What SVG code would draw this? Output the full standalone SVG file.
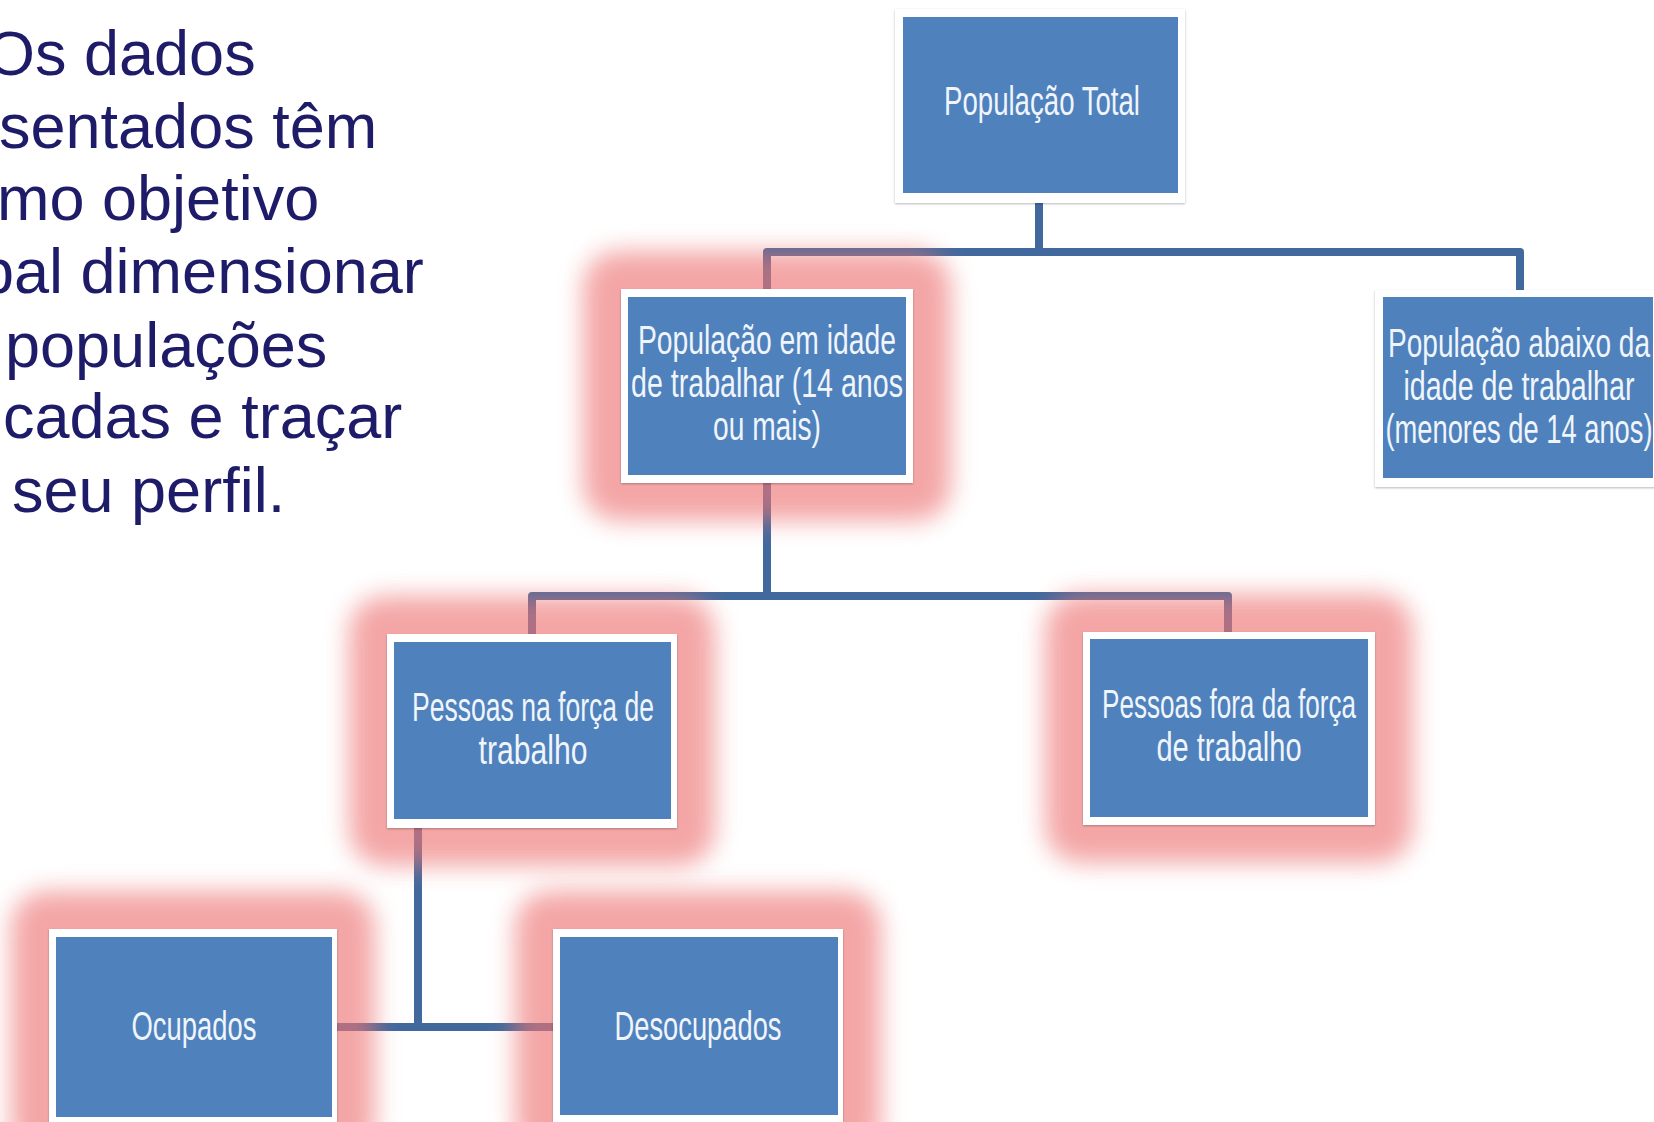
<svg xmlns="http://www.w3.org/2000/svg" width="1654" height="1122" viewBox="0 0 1654 1122">
  <defs>
    <filter id="glowBlur" x="-40%" y="-40%" width="180%" height="180%">
      <feGaussianBlur stdDeviation="12"/>
    </filter>
    <filter id="boxShadow" x="-5%" y="-5%" width="110%" height="110%">
      <feDropShadow dx="0" dy="1" stdDeviation="1.2" flood-color="#000000" flood-opacity="0.28"/>
    </filter>
  </defs>
  <style>
    .body { font-family: "Liberation Sans", Arial, sans-serif; font-size: 63px; fill: #1E1B68; }
    .lbl { font-family: "Liberation Sans", Arial, sans-serif; font-size: 40px; fill: #F0F5FB; text-anchor: middle; }
    .frame { fill: #FFFFFF; filter: url(#boxShadow); }
    .inner { fill: #4F81BD; }
    .glow { fill: #EE7474; opacity: 0.64; filter: url(#glowBlur); }
    .conn { fill: none; stroke: #41699D; stroke-width: 8; stroke-linejoin: round; stroke-linecap: butt; }
  </style>
  <rect width="1654" height="1122" fill="#FFFFFF"/>

  <g id="intro-text">
    <text class="body" x="-14" y="75">Os dados</text>
    <text class="body" x="-1" y="148">sentados têm</text>
    <text class="body" x="-3" y="220">mo objetivo</text>
    <text class="body" x="-21" y="293">pal dimensionar</text>
    <text class="body" x="5" y="367">populações</text>
    <text class="body" x="3" y="438">cadas e traçar</text>
    <text class="body" x="12" y="512">seu perfil.</text>
  </g>

  <g id="connectors">
    <path class="conn" d="M1039 203 V252 M767 289 V252 H1520 V290"/>
    <path class="conn" d="M767 483 V596 M532 634 V596 H1228 V632"/>
    <path class="conn" d="M418 828 V1027 M337 1027 H553"/>
  </g>

  <g id="glows">
    <rect class="glow" x="583" y="251" width="368" height="270" rx="36"/>
    <rect class="glow" x="349" y="596" width="366" height="270" rx="36"/>
    <rect class="glow" x="1045" y="594" width="368" height="269" rx="36"/>
    <rect class="glow" x="11" y="891" width="364" height="270" rx="36"/>
    <rect class="glow" x="515" y="891" width="366" height="270" rx="36"/>
  </g>

  <g id="node-populacao-total">
    <rect class="frame" x="895" y="9" width="290" height="194"/>
    <rect class="inner" x="903" y="17" width="275" height="176"/>
    <text class="lbl" x="1042" y="115" textLength="196" lengthAdjust="spacingAndGlyphs">População Total</text>
  </g>

  <g id="node-idade-trabalhar">
    <rect class="frame" x="621" y="289" width="292" height="194"/>
    <rect class="inner" x="628" y="297" width="278" height="178"/>
    <text class="lbl" x="767" y="354" textLength="258" lengthAdjust="spacingAndGlyphs">População em idade</text>
    <text class="lbl" x="767" y="397" textLength="272" lengthAdjust="spacingAndGlyphs">de trabalhar (14 anos</text>
    <text class="lbl" x="767" y="440" textLength="108" lengthAdjust="spacingAndGlyphs">ou mais)</text>
  </g>

  <g id="node-abaixo-idade">
    <rect class="frame" x="1375" y="290" width="290" height="197"/>
    <rect class="inner" x="1383" y="297" width="270" height="181"/>
    <text class="lbl" x="1519" y="357" textLength="262" lengthAdjust="spacingAndGlyphs">População abaixo da</text>
    <text class="lbl" x="1519" y="400" textLength="231" lengthAdjust="spacingAndGlyphs">idade de trabalhar</text>
    <text class="lbl" x="1519" y="443" textLength="267" lengthAdjust="spacingAndGlyphs">(menores de 14 anos)</text>
  </g>

  <g id="node-forca-trabalho">
    <rect class="frame" x="387" y="634" width="290" height="194"/>
    <rect class="inner" x="394" y="642" width="277" height="177"/>
    <text class="lbl" x="533" y="721" textLength="242" lengthAdjust="spacingAndGlyphs">Pessoas na força de</text>
    <text class="lbl" x="533" y="764" textLength="109" lengthAdjust="spacingAndGlyphs">trabalho</text>
  </g>

  <g id="node-fora-forca">
    <rect class="frame" x="1083" y="632" width="292" height="193"/>
    <rect class="inner" x="1090" y="639" width="278" height="178"/>
    <text class="lbl" x="1229" y="718" textLength="254" lengthAdjust="spacingAndGlyphs">Pessoas fora da força</text>
    <text class="lbl" x="1229" y="761" textLength="145" lengthAdjust="spacingAndGlyphs">de trabalho</text>
  </g>

  <g id="node-ocupados">
    <rect class="frame" x="49" y="929" width="288" height="200"/>
    <rect class="inner" x="56" y="937" width="276" height="180"/>
    <text class="lbl" x="194" y="1040" textLength="125" lengthAdjust="spacingAndGlyphs">Ocupados</text>
  </g>

  <g id="node-desocupados">
    <rect class="frame" x="553" y="929" width="290" height="200"/>
    <rect class="inner" x="560" y="937" width="278" height="178"/>
    <text class="lbl" x="698" y="1040" textLength="167" lengthAdjust="spacingAndGlyphs">Desocupados</text>
  </g>
</svg>
